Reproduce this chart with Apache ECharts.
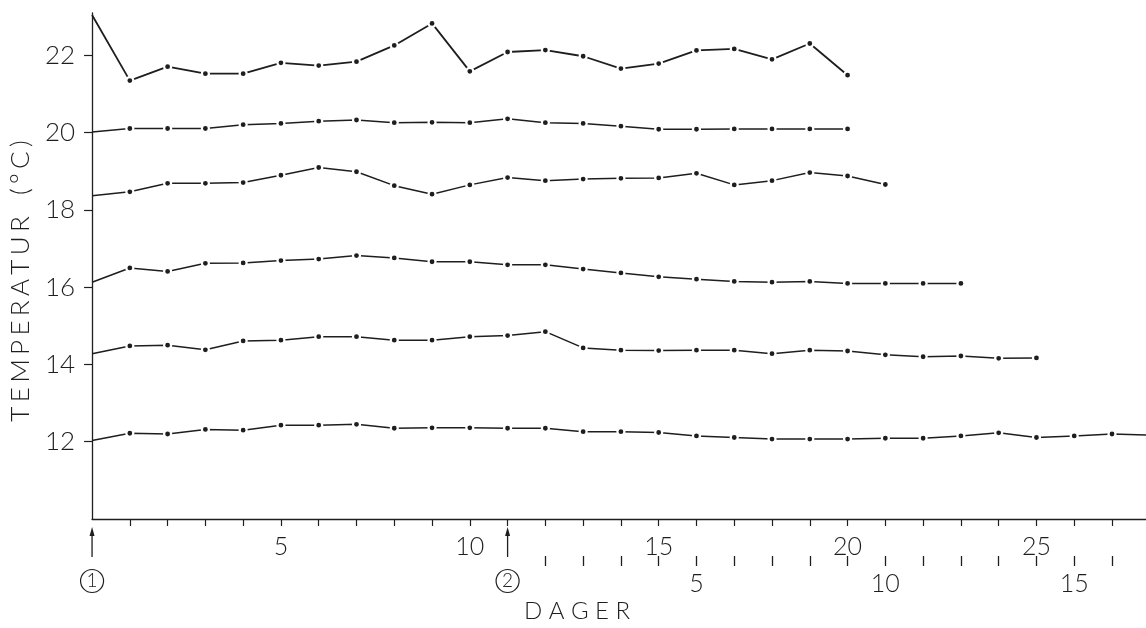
<!DOCTYPE html>
<html>
<head>
<meta charset="utf-8">
<title>Temperatur</title>
<script src="https://cdn.jsdelivr.net/npm/echarts@6/dist/echarts.min.js"></script>
<style>
  html, body { margin: 0; padding: 0; background: #fff; }
  #chart { width: 1146px; height: 628px; }
</style>
</head>
<body>
<div id="chart"></div>
<script>
// Daily temperature readings (°C), one row per measuring series
const days = Array.from({ length: 29 }, (_, i) => i);

const seriesA = [23.05, 21.35, 21.71, 21.53, 21.53, 21.81, 21.74, 21.84, 22.26, 22.83,
                 21.59, 22.09, 22.14, 21.98, 21.66, 21.79, 22.13, 22.17, 21.90, 22.31, 21.49];
const seriesB = [20.02, 20.11, 20.11, 20.11, 20.21, 20.24, 20.30, 20.33, 20.26, 20.27,
                 20.26, 20.36, 20.26, 20.24, 20.17, 20.09, 20.09, 20.10, 20.10, 20.10, 20.10];
const seriesC = [18.37, 18.47, 18.69, 18.69, 18.71, 18.90, 19.10, 18.99, 18.63, 18.41,
                 18.65, 18.84, 18.76, 18.80, 18.82, 18.83, 18.95, 18.65, 18.76, 18.97, 18.88, 18.66];
const seriesD = [16.13, 16.50, 16.41, 16.62, 16.63, 16.69, 16.73, 16.82, 16.76, 16.66,
                 16.66, 16.58, 16.58, 16.47, 16.37, 16.27, 16.21, 16.15, 16.13, 16.15, 16.10, 16.10, 16.10, 16.10];
const seriesE = [14.28, 14.48, 14.50, 14.38, 14.61, 14.63, 14.72, 14.72, 14.63, 14.63,
                 14.72, 14.75, 14.85, 14.43, 14.37, 14.36, 14.37, 14.37, 14.28, 14.37, 14.35, 14.25, 14.20, 14.22, 14.16, 14.17];
const seriesF = [12.03, 12.22, 12.20, 12.32, 12.30, 12.43, 12.43, 12.45, 12.35, 12.36,
                 12.36, 12.35, 12.35, 12.26, 12.26, 12.24, 12.15, 12.11, 12.07, 12.07, 12.07, 12.09, 12.09, 12.15, 12.23, 12.11, 12.15, 12.20, 12.17];

// Axis tick values and labels
const yTicks = [12, 14, 16, 18, 20, 22];
const dayTicks = Array.from({ length: 27 }, (_, i) => i + 1);
const dayLabels = [5, 10, 15, 20, 25];
// Second day count, starting at event 2 (day 11)
const secondStart = 11;
const secondTicks = Array.from({ length: 16 }, (_, i) => i + 1);
const secondLabels = [5, 10, 15];
// Event markers along the day axis
const eventDays = [0, 11];
const eventNames = ['1', '2'];

const INK = '#1e1e1e';
const FONT = 'Lato';
const X_MAX = 27.9;

// widen lettering with narrow spaces between the characters
const spaced = (s) => s.split('').join('\u2006');

const chart = echarts.init(document.getElementById('chart'), null, { renderer: 'canvas' });

function lineSeries(values, width) {
  return {
    type: 'line',
    data: values.map((v, i) => [days[i], v]),
    symbol: (val, params) => (params.dataIndex === 0 ? 'none' : 'circle'),
    symbolSize: 7,
    showAllSymbol: true,
    lineStyle: { color: INK, width: width },
    itemStyle: { color: INK, borderColor: '#fff', borderWidth: 2.2 },
    emphasis: { disabled: true },
    animation: false,
    z: 3
  };
}

const eventSeries = {
  type: 'custom',
  coordinateSystem: 'cartesian2d',
  clip: false,
  silent: true,
  animation: false,
  data: eventDays.map((d, i) => [d, 10, eventNames[i]]),
  encode: { x: 0, y: 1 },
  renderItem: (params, api) => {
    const p = api.coord([api.value(0), 10]);
    const x = p[0], y = p[1];
    return {
      type: 'group',
      children: [
        { type: 'line', shape: { x1: x, y1: y + 38, x2: x, y2: y + 13 },
          style: { stroke: INK, lineWidth: 1.3 } },
        { type: 'polygon', shape: { points: [[x, y + 8], [x - 2.5, y + 17], [x + 2.5, y + 17]] },
          style: { fill: INK } },
        { type: 'circle', shape: { cx: x, cy: y + 62, r: 11.5 },
          style: { fill: 'none', stroke: INK, lineWidth: 1.2 } },
        { type: 'text', x: x, y: y + 62,
          style: { text: api.value(2) + '', fill: INK, font: '300 19px ' + FONT,
                   align: 'center', verticalAlign: 'middle' } }
      ]
    };
  }
};

const option = {
  backgroundColor: '#fff',
  animation: false,
  grid: { left: 88, right: 0, top: 13, bottom: 108, containLabel: false },
  xAxis: [
    {
      type: 'value', min: 0, max: X_MAX, position: 'bottom',
      name: 'D A G E R', nameLocation: 'middle', nameGap: 80,
      nameTextStyle: { color: INK, fontFamily: FONT, fontWeight: 300, fontSize: 24, padding: [0, 84, 0, 0] },
      axisLine: { show: true, lineStyle: { color: INK, width: 1.3 } },
      axisTick: { show: true, customValues: dayTicks, length: 7, lineStyle: { color: INK, width: 1.2 } },
      axisLabel: { show: true, customValues: dayLabels, margin: 15, color: INK,
                   fontFamily: FONT, fontWeight: 300, fontSize: 25 },
      splitLine: { show: false }
    },
    {
      type: 'value', min: 0 - secondStart, max: X_MAX - secondStart, position: 'bottom', offset: 37,
      axisLine: { show: false },
      axisTick: { show: true, customValues: secondTicks, length: 10, lineStyle: { color: INK, width: 1.3 } },
      axisLabel: { show: true, customValues: secondLabels, margin: 15, color: INK,
                   fontFamily: FONT, fontWeight: 300, fontSize: 25 },
      splitLine: { show: false }
    }
  ],
  yAxis: {
    type: 'value', min: 10, max: 23.1,
    name: spaced('TEMPERATUR') + '   ' + spaced('(°C)'), nameLocation: 'middle', nameRotate: 90, nameGap: 55,
    nameTextStyle: { color: INK, fontFamily: FONT, fontWeight: 300, fontSize: 26, padding: [0, 30, 0, 0] },
    axisLine: { show: true, lineStyle: { color: INK, width: 1.3 } },
    axisTick: { show: true, customValues: yTicks, length: 8, lineStyle: { color: INK, width: 1.2 } },
    axisLabel: { show: true, customValues: yTicks, margin: 17, color: INK,
                 fontFamily: FONT, fontWeight: 300, fontSize: 26 },
    splitLine: { show: false }
  },
  series: [
    lineSeries(seriesA, 1.8),
    lineSeries(seriesB, 1.5),
    lineSeries(seriesC, 1.5),
    lineSeries(seriesD, 1.5),
    lineSeries(seriesE, 1.5),
    lineSeries(seriesF, 1.5),
    eventSeries
  ]
};

chart.setOption(option);
</script>
</body>
</html>
